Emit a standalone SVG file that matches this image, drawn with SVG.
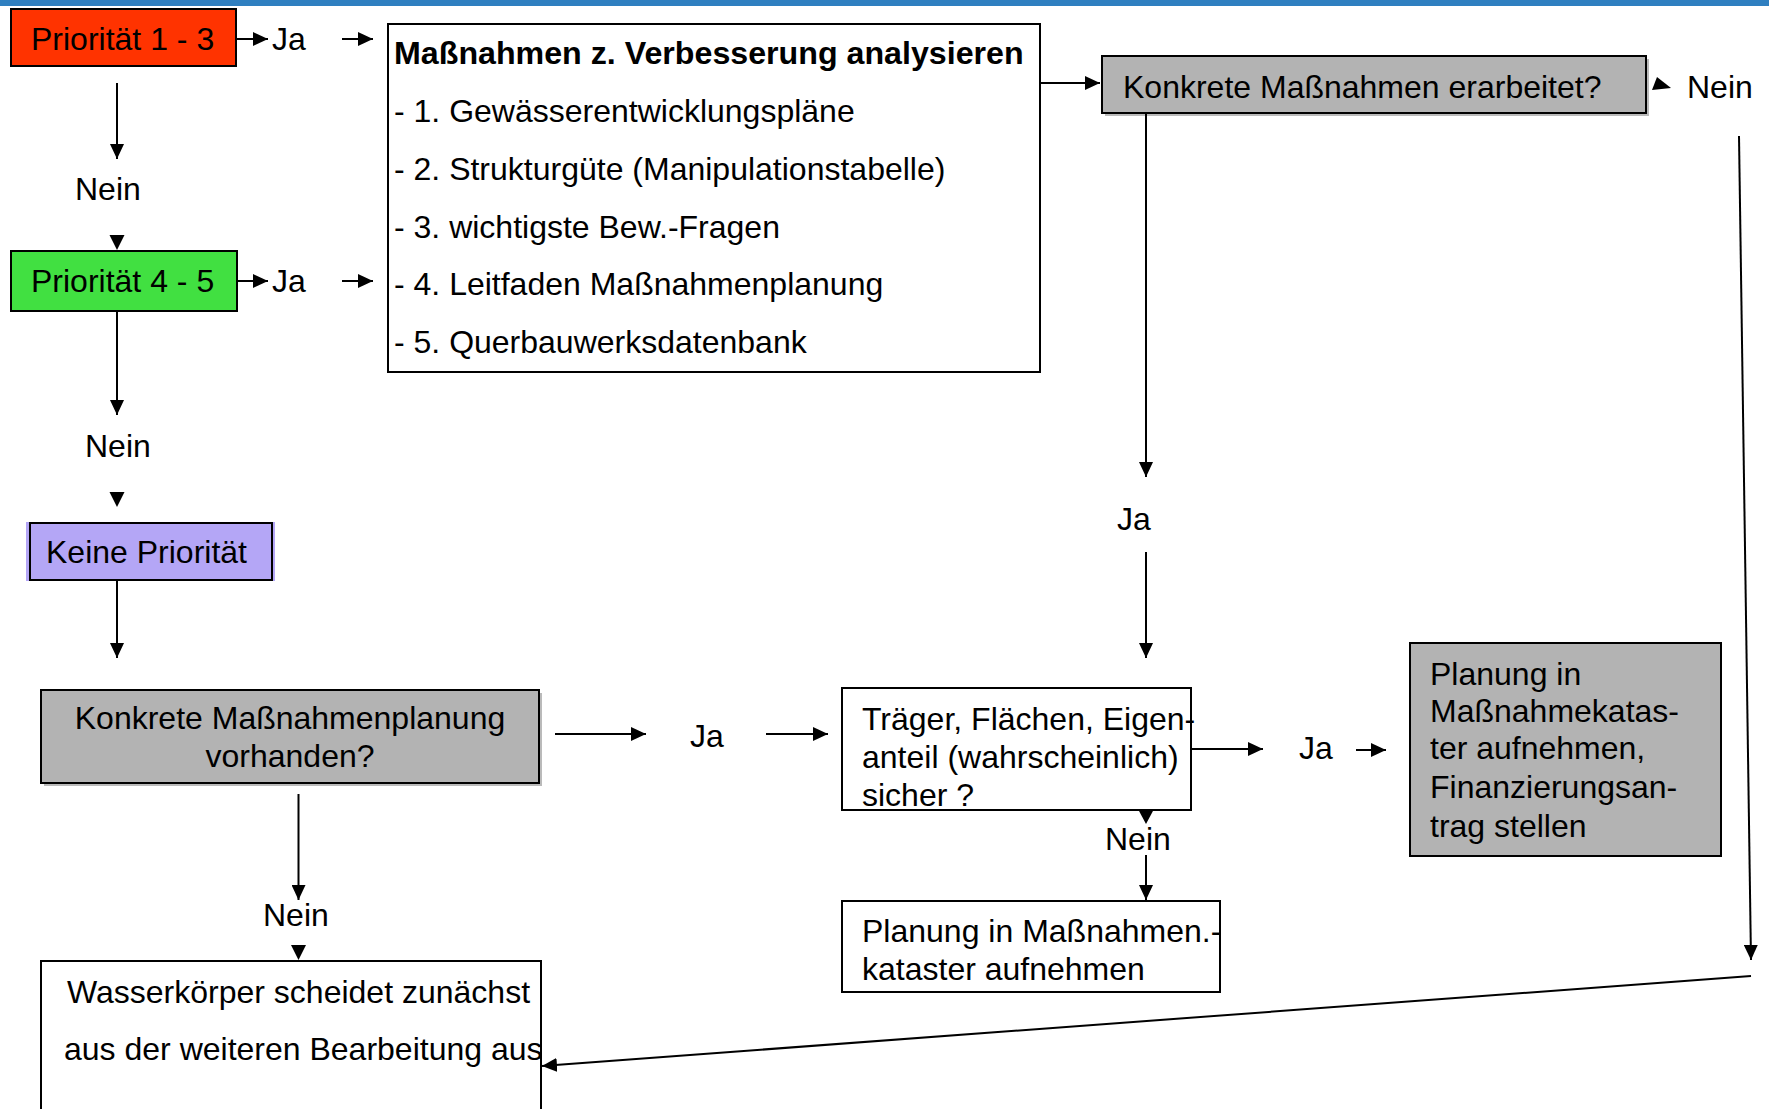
<svg xmlns="http://www.w3.org/2000/svg" width="1769" height="1109" viewBox="0 0 1769 1109">
<defs>
<style>
.t{font-family:"Liberation Sans",Arial,Helvetica,sans-serif;font-size:32px;fill:#000}
.b{font-weight:bold;font-size:32.2px}
.box{stroke:#000;stroke-width:2}
.ln{stroke:#000;stroke-width:2;fill:none}
.arr{marker-end:url(#ah)}
.gray{fill:#b3b3b3}
.shadow{fill:#8c8c8c;opacity:0.6}
</style>
<marker id="ah" markerUnits="userSpaceOnUse" markerWidth="16" markerHeight="14" refX="15" refY="7" orient="auto">
<path d="M0,0 L15,7 L0,14 z" fill="#000"/>
</marker>
</defs>
<rect x="0" y="0" width="1769" height="1109" fill="#fff"/>
<rect id="topbar" x="0" y="0" width="1769" height="6" fill="#2f7fc0"/>

<g id="p13">
<rect class="box" x="11" y="9" width="225" height="57" fill="#ff3300"/>
<text class="t" x="31" y="50">Priorität 1 - 3</text>
</g>
<g id="p45">
<rect class="box" x="11" y="251" width="226" height="60" fill="#41e041"/>
<text class="t" x="31" y="292">Priorität 4 - 5</text>
</g>
<g id="keine">
<rect x="26" y="522" width="249" height="59" fill="#b4a6f6"/>
<rect class="box" x="30" y="523" width="242" height="57" fill="none"/>
<text class="t" x="46" y="563">Keine Priorität</text>
</g>
<g id="massnahmen">
<rect class="box" x="388" y="24" width="652" height="348" fill="#fff"/>
<text class="t b" x="394" y="64">Maßnahmen z. Verbesserung analysieren</text>
<text class="t" x="394" y="122">- 1. Gewässerentwicklungspläne</text>
<text class="t" x="394" y="180">- 2. Strukturgüte (Manipulationstabelle)</text>
<text class="t" x="394" y="238">- 3. wichtigste Bew.-Fragen</text>
<text class="t" x="394" y="295">- 4. Leitfaden Maßnahmenplanung</text>
<text class="t" x="394" y="353">- 5. Querbauwerksdatenbank</text>
</g>
<g id="erarbeitet">
<rect class="shadow" x="1105" y="59" width="544" height="57"/>
<rect class="box gray" x="1102" y="56" width="544" height="57"/>
<text class="t" x="1123" y="98">Konkrete Maßnahmen erarbeitet?</text>
</g>
<g id="planungVorhanden">
<rect class="shadow" x="44" y="693" width="498" height="93"/>
<rect class="box gray" x="41" y="690" width="498" height="93"/>
<text class="t" x="290" y="729" text-anchor="middle">Konkrete Maßnahmenplanung</text>
<text class="t" x="290" y="767" text-anchor="middle">vorhanden?</text>
</g>
<g id="traeger">
<rect class="box" x="842" y="688" width="349" height="122" fill="#fff"/>
<text class="t" x="862" y="730">Träger, Flächen, Eigen-</text>
<text class="t" x="862" y="768">anteil (wahrscheinlich)</text>
<text class="t" x="862" y="806">sicher ?</text>
</g>
<g id="kataster">
<rect class="box" x="842" y="901" width="378" height="91" fill="#fff"/>
<text class="t" x="862" y="942">Planung in Maßnahmen.-</text>
<text class="t" x="862" y="980">kataster aufnehmen</text>
</g>
<g id="finanzierung">
<rect class="box gray" x="1410" y="643" width="311" height="213"/>
<text class="t" x="1430" y="685">Planung in</text>
<text class="t" x="1430" y="722">Maßnahmekatas-</text>
<text class="t" x="1430" y="759">ter aufnehmen,</text>
<text class="t" x="1430" y="798">Finanzierungsan-</text>
<text class="t" x="1430" y="837">trag stellen</text>
</g>
<g id="wasserkoerper">
<rect class="box" x="41" y="961" width="500" height="170" fill="#fff"/>
<text class="t" x="67" y="1003">Wasserkörper scheidet zunächst</text>
<text class="t" x="64" y="1060">aus der weiteren Bearbeitung aus</text>
</g>

<g id="connectors">
<line class="ln arr" x1="237" y1="39" x2="268" y2="39"/>
<line class="ln arr" x1="342" y1="39" x2="373" y2="39"/>
<line class="ln arr" x1="117" y1="83" x2="117" y2="159"/>
<polygon points="109.5,235 124.5,235 117,250" fill="#000"/>
<line class="ln arr" x1="237" y1="281" x2="268" y2="281"/>
<line class="ln arr" x1="342" y1="281" x2="373" y2="281"/>
<line class="ln arr" x1="117" y1="311" x2="117" y2="415"/>
<polygon points="109.5,492 124.5,492 117,507" fill="#000"/>
<line class="ln arr" x1="117" y1="581" x2="117" y2="658"/>
<line class="ln arr" x1="555" y1="734" x2="646" y2="734"/>
<line class="ln arr" x1="766" y1="734" x2="828" y2="734"/>
<line class="ln arr" x1="298.5" y1="794" x2="298.5" y2="900"/>
<polygon points="291,945 306,945 298.5,960" fill="#000"/>
<line class="ln arr" x1="1040" y1="83" x2="1100" y2="83"/>
<line class="ln arr" x1="1146" y1="113" x2="1146" y2="477"/>
<line class="ln arr" x1="1146" y1="552" x2="1146" y2="658"/>
<polygon points="1138.5,810 1153.5,810 1146,824" fill="#000"/>
<line class="ln arr" x1="1146" y1="855" x2="1146" y2="900"/>
<line class="ln arr" x1="1191" y1="749" x2="1263" y2="749"/>
<line class="ln arr" x1="1356" y1="750" x2="1386" y2="750"/>
<polygon points="1657,77 1652,90 1671,88" fill="#000"/>
<line class="ln arr" x1="1739" y1="136" x2="1751" y2="960"/>
<line class="ln arr" x1="1751" y1="976" x2="542" y2="1066"/>
</g>

<g id="labels">
<text class="t" x="272" y="50">Ja</text>
<text class="t" x="75" y="200">Nein</text>
<text class="t" x="272" y="292">Ja</text>
<text class="t" x="85" y="457">Nein</text>
<text class="t" x="263" y="926">Nein</text>
<text class="t" x="690" y="747">Ja</text>
<text class="t" x="1117" y="530">Ja</text>
<text class="t" x="1105" y="850">Nein</text>
<text class="t" x="1299" y="759">Ja</text>
<text class="t" x="1687" y="98">Nein</text>
</g>
</svg>
